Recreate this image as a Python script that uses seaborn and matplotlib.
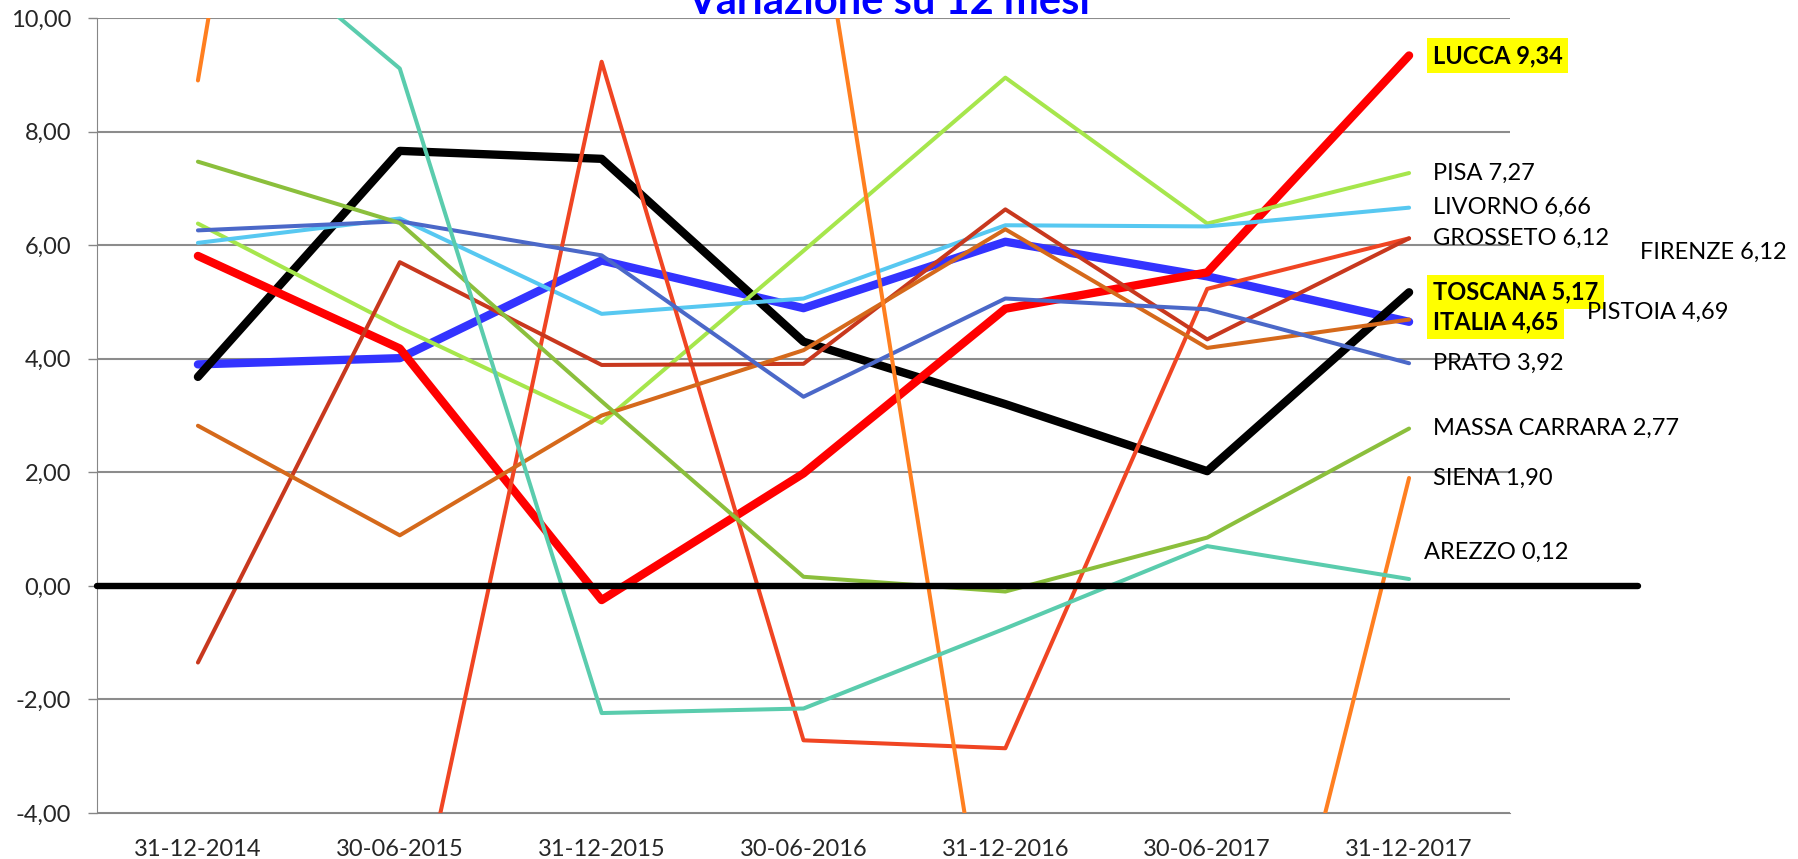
import numpy as np
import pandas as pd
import seaborn as sns
import matplotlib.pyplot as plt
import matplotlib.ticker as ticker

# dati: variazione su 12 mesi
date = ["31-12-2014", "30-06-2015", "31-12-2015", "30-06-2016",
        "31-12-2016", "30-06-2017", "31-12-2017"]

italia = [3.90, 4.01, 5.73, 4.89, 6.06, 5.45, 4.65]
toscana = [3.68, 7.66, 7.52, 4.30, 3.20, 2.02, 5.17]
lucca = [5.81, 4.18, -0.25, 1.98, 4.88, 5.52, 9.34]
pisa = [6.38, 4.55, 2.87, 5.90, 8.95, 6.38, 7.27]
livorno = [6.04, 6.47, 4.79, 5.06, 6.35, 6.33, 6.66]
grosseto = [-6.00, -7.33, 9.23, -2.72, -2.86, 5.23, 6.12]
firenze = [-1.35, 5.70, 3.89, 3.91, 6.63, 4.34, 6.12]
pistoia = [2.82, 0.89, 3.00, 4.15, 6.28, 4.19, 4.69]
prato = [6.26, 6.42, 5.82, 3.33, 5.06, 4.87, 3.92]
massa = [7.47, 6.39, 3.25, 0.16, -0.10, 0.85, 2.77]
siena = [8.90, 30.00, 20.00, 13.75, -8.50, -12.30, 1.90]
arezzo = [12.10, 9.11, -2.24, -2.16, -0.75, 0.70, 0.12]

serie = {
    "ITALIA": italia,
    "TOSCANA": toscana,
    "LUCCA": lucca,
    "PISA": pisa,
    "LIVORNO": livorno,
    "GROSSETO": grosseto,
    "FIRENZE": firenze,
    "PISTOIA": pistoia,
    "PRATO": prato,
    "MASSA CARRARA": massa,
    "SIENA": siena,
    "AREZZO": arezzo,
}

# stile delle linee
colori = {
    "ITALIA": "#3333ff", "TOSCANA": "#000000", "LUCCA": "#ff0000",
    "PISA": "#a6e64c", "LIVORNO": "#57c8f1", "GROSSETO": "#f04523",
    "FIRENZE": "#c8381e", "PISTOIA": "#d5691b", "PRATO": "#4b68c8",
    "MASSA CARRARA": "#8bbf3c", "SIENA": "#ff7f20", "AREZZO": "#5accad",
}
spesse = ["ITALIA", "TOSCANA", "LUCCA"]
evidenziate = ["LUCCA", "TOSCANA", "ITALIA"]
# spostamento etichette (pixel)
offset = {"FIRENZE": (231, -14), "PISTOIA": (178, 7), "AREZZO": (15, 27)}

righe = []
for nome, valori in serie.items():
    for d, v in zip(date, valori):
        righe.append({"area": nome, "data": d, "valore": v})
df = pd.DataFrame(righe)

sns.set_style("white")
plt.rcParams['font.family'] = ['Lato', 'DejaVu Sans']

W, H = 1799, 859
fig = plt.figure(figsize=(W / 100, H / 100), dpi=100)
ax = fig.add_axes([97 / W, 1 - 813 / H, (1510 - 97) / W, (813 - 18) / H])

ordine = ["ITALIA", "TOSCANA", "LUCCA", "PISA", "LIVORNO", "GROSSETO",
          "FIRENZE", "PISTOIA", "PRATO", "MASSA CARRARA", "SIENA", "AREZZO"]
for nome in ordine:
    sub = df[df["area"] == nome]
    sns.lineplot(data=sub, x="data", y="valore", ax=ax, sort=False,
                 estimator=None, color=colori[nome],
                 linewidth=6.0 if nome in spesse else 2.9,
                 solid_capstyle="round", zorder=3)

# linea dello zero, oltre l'area del grafico
ax.axhline(0, xmin=0, xmax=(1638 - 97) / (1510 - 97), color="black",
           lw=4.6, clip_on=False, zorder=6)

# etichette finali
for nome in ordine:
    v = serie[nome][-1]
    testo = f"{nome} {v:.2f}".replace(".", ",")
    dx, dy = offset.get(nome, (24, 0))
    kw = {}
    if nome in evidenziate:
        kw = dict(fontweight="bold",
                  bbox=dict(facecolor="#ffff00", edgecolor="none", pad=4))
    ax.annotate(testo, xy=(len(date) - 1, v), xytext=(dx, dy),
                textcoords="offset pixels", ha="left", va="center",
                fontsize=17, color="black", annotation_clip=False, zorder=7, **kw)

ax.set_xlim(-0.5, len(date) - 0.5)
ax.set_ylim(-4, 10)
ax.set_xticks(range(len(date)))
ax.set_xticklabels(date)
ax.xaxis.set_minor_locator(ticker.FixedLocator(np.arange(-0.5, len(date), 1)))
ax.set_yticks(np.arange(-4, 11, 2))
ax.yaxis.set_major_formatter(
    ticker.FuncFormatter(lambda v, p: f"{v:.2f}".replace(".", ",")))

ax.tick_params(axis="x", which="major", length=0, pad=19, labelsize=17)
ax.tick_params(axis="x", which="minor", length=5.5, width=1, color="#868686")
ax.tick_params(axis="y", length=6.5, width=1, color="#868686", pad=12,
               labelsize=17, left=True)

ax.yaxis.grid(True, color="#8c8c8c", lw=1.5)
ax.set_axisbelow(True)
for s in ["top", "right"]:
    ax.spines[s].set_visible(False)
ax.spines["left"].set_color("#868686")
ax.spines["bottom"].set_color("#868686")
ax.set_xlabel("")
ax.set_ylabel("")

# titolo tagliato in alto come nell'originale
fig.text(889 / W, 1 - 14 / H, "Variazione su 12 mesi", ha="center",
         va="baseline", color="#0000ff", fontsize=30, fontweight="bold")

fig.savefig("out.png", dpi=100)
